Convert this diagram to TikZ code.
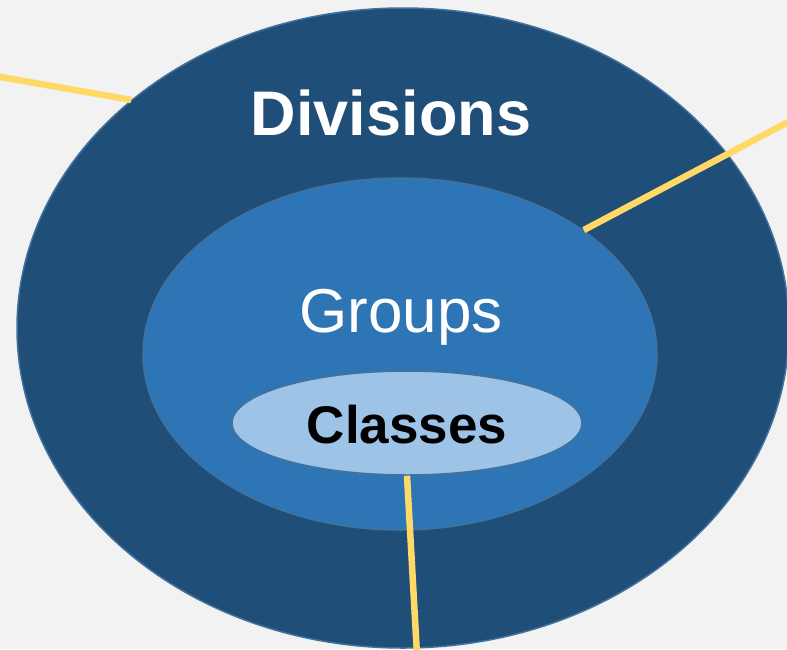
\documentclass[tikz,border=0pt]{standalone}
\usepackage{fontspec}
\setmainfont{Liberation Sans}
\usepackage{tikz}
\usetikzlibrary{shapes.geometric}

\definecolor{bgGray}{HTML}{F2F2F2}
\definecolor{divBlue}{HTML}{1F4E79}
\definecolor{grpBlue}{HTML}{2E75B6}
\definecolor{clsBlue}{HTML}{9DC3E6}
\definecolor{edgeBlue}{HTML}{41719C}
\definecolor{linkYellow}{HTML}{FFD966}

\begin{document}
\begin{tikzpicture}[x=1pt,y=-1pt,
  layer/.style={ellipse,draw=edgeBlue,line width=1.5pt,inner sep=0pt},
  link/.style={linkYellow,line width=6.5pt}]
% Background
\fill[bgGray] (0,0) rectangle (787,649);
\useasboundingbox (0,0) rectangle (787,649);

% Nested sets
\node[layer,fill=divBlue,minimum width=772pt,minimum height=640pt] (divisions) at (403,328) {};
\node[layer,fill=grpBlue,minimum width=514pt,minimum height=352pt] (groups) at (400,354) {};
\node[layer,fill=clsBlue,minimum width=350pt,minimum height=104pt] (classes) at (407,423) {};

% Labels
\node[anchor=base,text=white,font=\fontsize{63}{70}\selectfont\bfseries] (divLabel) at (391,135) {Divisions};
\node[anchor=base,text=white,font=\fontsize{62}{70}\selectfont] (grpLabel) at (401,332) {Groups};
\node[anchor=base,text=black,font=\fontsize{53}{60}\selectfont\bfseries] (clsLabel) at (407,443) {Classes};

% Pointer lines
\coordinate (divEnd) at (-5,76);
\coordinate (grpEnd) at (792,120);
\coordinate (clsEnd) at (417,655);
\draw[link] (divisions.140) -- (divEnd);
\draw[link] (groups.34) -- (grpEnd);
\draw[link] (classes.south) -- (clsEnd);

\end{tikzpicture}
\end{document}
